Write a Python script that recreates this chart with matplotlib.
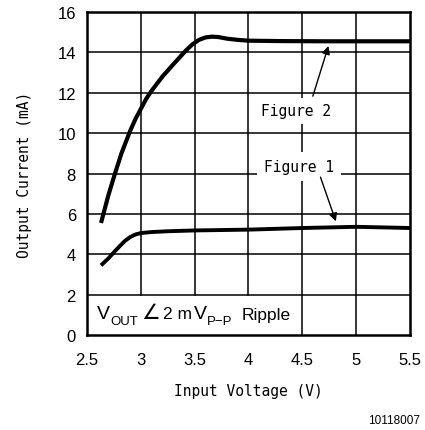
import matplotlib
matplotlib.use("Agg")
import matplotlib.pyplot as plt

# curves
fig2_v = [2.63, 2.7, 2.76, 2.82, 2.9, 2.95, 3.0, 3.05, 3.1, 3.2, 3.3, 3.36, 3.42, 3.48, 3.54, 3.6, 3.66, 3.72, 3.8, 3.9, 4.0, 4.3, 4.7, 5.0, 5.5]
fig2_i = [5.55, 6.95, 8.0, 9.0, 10.1, 10.7, 11.2, 11.7, 12.1, 12.8, 13.4, 13.75, 14.1, 14.4, 14.62, 14.74, 14.78, 14.76, 14.68, 14.62, 14.58, 14.56, 14.55, 14.55, 14.55]

fig1_v = [2.63, 2.7, 2.75, 2.8, 2.85, 2.9, 2.95, 3.0, 3.1, 3.25, 3.5, 4.0, 4.5, 5.0, 5.5]
fig1_i = [3.45, 3.8, 4.1, 4.38, 4.65, 4.85, 4.98, 5.05, 5.1, 5.14, 5.18, 5.22, 5.3, 5.36, 5.3]

xticks = [2.5, 3, 3.5, 4, 4.5, 5, 5.5]
xlabels = ["2.5", "3", "3.5", "4", "4.5", "5", "5.5"]
yticks = [0, 2, 4, 6, 8, 10, 12, 14, 16]

# ripple note pieces: (text, x, baseline y, size)
note_parts = [("V", 2.593, 0.84, 14), ("OUT", 2.716, 0.55, 9.5),
              ("2 m", 3.205, 0.84, 12.5), ("V", 3.49, 0.84, 14),
              ("P\u2212P", 3.615, 0.55, 9.5), ("Ripple", 3.939, 0.78, 12.5)]

mono = ["DejaVu Sans Mono", "DejaVu Sans"]
plt.rcParams["font.family"] = mono

fig = plt.figure(figsize=(4.25, 4.31), dpi=100)
ax = fig.add_axes([0.2047, 0.2204, 0.76, 0.7494])
ax.set_xlim(2.5, 5.5)
ax.set_ylim(0, 16)

# grid drawn by hand, lines under the ripple note stop at 2 mA
for x in xticks[1:-1]:
    lo = 2 / 16 if x <= 4 else 0
    ax.axvline(x, ymin=lo, ymax=1, color="black", lw=1.1, zorder=1)
for y in yticks[1:-1]:
    ax.axhline(y, color="black", lw=1.1, zorder=1)

ax.plot(fig2_v, fig2_i, color="black", lw=3, solid_capstyle="butt", solid_joinstyle="round", zorder=3)
ax.plot(fig1_v, fig1_i, color="black", lw=2.8, solid_capstyle="butt", solid_joinstyle="round", zorder=3)

ax.text(4.44, 11.1, "Figure 2", ha="center", va="center", fontsize=10.5,
        bbox=dict(facecolor="white", edgecolor="none", pad=4), zorder=4)
ax.text(4.47, 8.35, "Figure 1", ha="center", va="center", fontsize=10.5,
        bbox=dict(facecolor="white", edgecolor="none", pad=5), zorder=4)
ax.annotate("", xy=(4.75, 14.45), xytext=(4.59, 11.7),
            arrowprops=dict(arrowstyle="-|>", color="black", lw=1, mutation_scale=12), zorder=5)
ax.annotate("", xy=(4.82, 5.5), xytext=(4.66, 7.95),
            arrowprops=dict(arrowstyle="-|>", color="black", lw=1, mutation_scale=12), zorder=5)

for txt, x, y, size in note_parts:
    ax.text(x, y, txt, ha="left", va="baseline", fontsize=size, family="Liberation Sans", zorder=4)
ax.text(3.0, 0.84, "\u2220", ha="left", va="baseline", fontsize=15, family="DejaVu Sans", zorder=4)

for s in ax.spines.values():
    s.set_linewidth(1.8)
ax.set_xticks(xticks)
ax.set_xticklabels(xlabels)
ax.set_yticks(yticks)
ax.tick_params(length=0, labelsize=12)
ax.tick_params(axis="x", pad=12)
ax.tick_params(axis="y", pad=8)
for lab in ax.get_xticklabels() + ax.get_yticklabels():
    lab.set_family("Liberation Sans")
ax.set_xlabel("Input Voltage (V)", fontsize=10.5, labelpad=12)
ax.set_ylabel("Output Current (mA)", fontsize=10.5, labelpad=18)

fig.text(0.988, 0.023, "10118007", ha="right", va="center", fontsize=8.5, family="Liberation Sans")

fig.savefig("out.png", dpi=100)
